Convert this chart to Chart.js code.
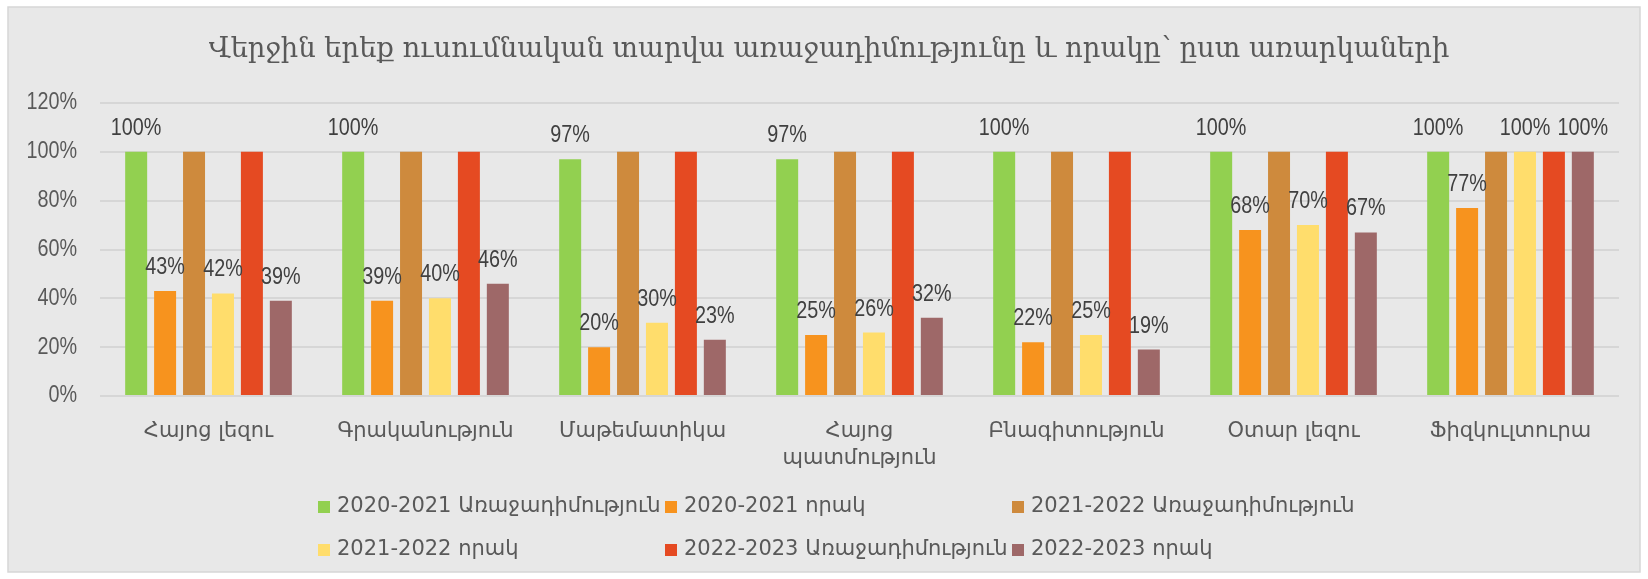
<!DOCTYPE html>
<html>
<head>
<meta charset="utf-8">
<script src="https://cdn.jsdelivr.net/npm/chart.js@4.4.1/dist/chart.umd.min.js"></script>
<style>
  html, body { margin: 0; padding: 0; background: #ffffff; }
  #wrap { width: 1648px; height: 579px; position: relative; }
</style>
</head>
<body>
<div id="wrap"><canvas id="c" width="1648" height="579"></canvas></div>
<script>
// ---- data ----
const categories = [
  "Հայոց լեզու",
  "Գրականություն",
  "Մաթեմատիկա",
  ["Հայոց", "պատմություն"],
  "Բնագիտություն",
  "Օտար լեզու",
  "Ֆիզկուլտուրա"
];
const seriesNames = [
  "2020-2021 Առաջադիմություն",
  "2020-2021 որակ",
  "2021-2022 Առաջադիմություն",
  "2021-2022 որակ",
  "2022-2023 Առաջադիմություն",
  "2022-2023 որակ"
];
const progress2021 = [100, 100, 97, 97, 100, 100, 100];
const quality2021  = [43, 39, 20, 25, 22, 68, 77];
const progress2022 = [100, 100, 100, 100, 100, 100, 100];
const quality2022  = [42, 40, 30, 26, 25, 70, 100];
const progress2023 = [100, 100, 100, 100, 100, 100, 100];
const quality2023  = [39, 46, 23, 32, 19, 67, 100];
const yTicks = [0, 20, 40, 60, 80, 100, 120];
const labeledSeries = [0, 1, 3, 5];
const titleText = "Վերջին երեք ուսումնական տարվա առաջադիմությունը և որակը՝ ըստ առարկաների";

const colors = ["#92d050", "#f7931e", "#ce8a3d", "#ffdd6c", "#e54a22", "#9e6868"];
const seriesValues = [progress2021, quality2021, progress2022, quality2022, progress2023, quality2023];

const NARROW = '"Liberation Sans", Arial, sans-serif';
const NARROW_SCALE = 0.86;
const ARM = '"DejaVu Sans", sans-serif';

function drawNarrow(ctx, text, x, y, align) {
  ctx.save();
  ctx.translate(x, y);
  ctx.scale(NARROW_SCALE, 1);
  ctx.textAlign = align;
  ctx.fillText(text, 0, 0);
  ctx.restore();
}

const bgPlugin = {
  id: 'bg',
  beforeDraw(chart) {
    const ctx = chart.ctx;
    ctx.save();
    ctx.fillStyle = '#ffffff';
    ctx.fillRect(0, 0, chart.width, chart.height);
    ctx.fillStyle = '#e8e8e8';
    ctx.fillRect(8, 7, chart.width - 16, chart.height - 14);
    ctx.strokeStyle = '#d6d6d6';
    ctx.lineWidth = 1.5;
    ctx.strokeRect(8, 7, chart.width - 16, chart.height - 14);
    // title
    ctx.fillStyle = '#595959';
    ctx.font = '27.4px "DejaVu Serif", serif';
    ctx.textAlign = 'center';
    ctx.textBaseline = 'middle';
    ctx.fillText(titleText, 829, 50);
    ctx.restore();
  }
};

const yLabelPlugin = {
  id: 'ylabels',
  afterDraw(chart) {
    const ctx = chart.ctx;
    const scale = chart.scales.y;
    ctx.save();
    ctx.fillStyle = '#595959';
    ctx.font = '23px ' + NARROW;
    ctx.textBaseline = 'middle';
    scale.ticks.forEach(t => {
      const y = scale.getPixelForValue(t.value);
      drawNarrow(ctx, t.value + '%', scale.right - 23, y, 'right');
    });
    ctx.restore();
  }
};

const labelPlugin = {
  id: 'vlabels',
  afterDatasetsDraw(chart) {
    const ctx = chart.ctx;
    ctx.save();
    ctx.fillStyle = '#404040';
    ctx.font = '23px ' + NARROW;
    ctx.textBaseline = 'alphabetic';
    labeledSeries.forEach(di => {
      const meta = chart.getDatasetMeta(di);
      meta.data.forEach((bar, i) => {
        const v = chart.data.datasets[di].data[i];
        drawNarrow(ctx, v + '%', bar.x, bar.y - 17, 'center');
      });
    });
    ctx.restore();
  }
};

const legendPlugin = {
  id: 'gridLegend',
  afterDraw(chart) {
    const ctx = chart.ctx;
    const colX = [318, 665, 1012];
    const rowY = [507, 550];
    ctx.save();
    ctx.font = '21px ' + ARM;
    ctx.textBaseline = 'middle';
    ctx.textAlign = 'left';
    chart.data.datasets.forEach((ds, i) => {
      const x = colX[i % 3];
      const y = rowY[Math.floor(i / 3)];
      ctx.fillStyle = ds.backgroundColor;
      ctx.fillRect(x, y - 6, 12, 12);
      ctx.fillStyle = '#595959';
      ctx.fillText(ds.label, x + 19, y);
    });
    ctx.restore();
  }
};

new Chart(document.getElementById('c'), {
  type: 'bar',
  data: {
    labels: categories,
    datasets: seriesNames.map((name, i) => ({
      label: name,
      data: seriesValues[i],
      backgroundColor: colors[i],
      borderWidth: 0,
      categoryPercentage: 0.8,
      barPercentage: 0.76
    }))
  },
  options: {
    responsive: false,
    animation: false,
    devicePixelRatio: 1,
    layout: { padding: { left: 0, right: 29, top: 103, bottom: 0 } },
    plugins: {
      legend: { display: false },
      title: { display: false },
      tooltip: { enabled: false }
    },
    scales: {
      x: {
        grid: { display: false },
        border: { display: false },
        ticks: {
          color: '#595959',
          font: { family: ARM, size: 21, lineHeight: 1.24 },
          padding: 15,
          maxRotation: 0,
          autoSkip: false
        },
        afterFit(scale) { scale.height = 183; }
      },
      y: {
        min: 0,
        max: 120,
        afterBuildTicks(scale) { scale.ticks = yTicks.map(v => ({ value: v })); },
        grid: { color: '#d6d6d6', lineWidth: 2, drawTicks: false },
        border: { display: false },
        ticks: { display: false },
        afterFit(scale) { scale.width = 100; }
      }
    }
  },
  plugins: [bgPlugin, labelPlugin, yLabelPlugin, legendPlugin]
});
</script>
</body>
</html>
